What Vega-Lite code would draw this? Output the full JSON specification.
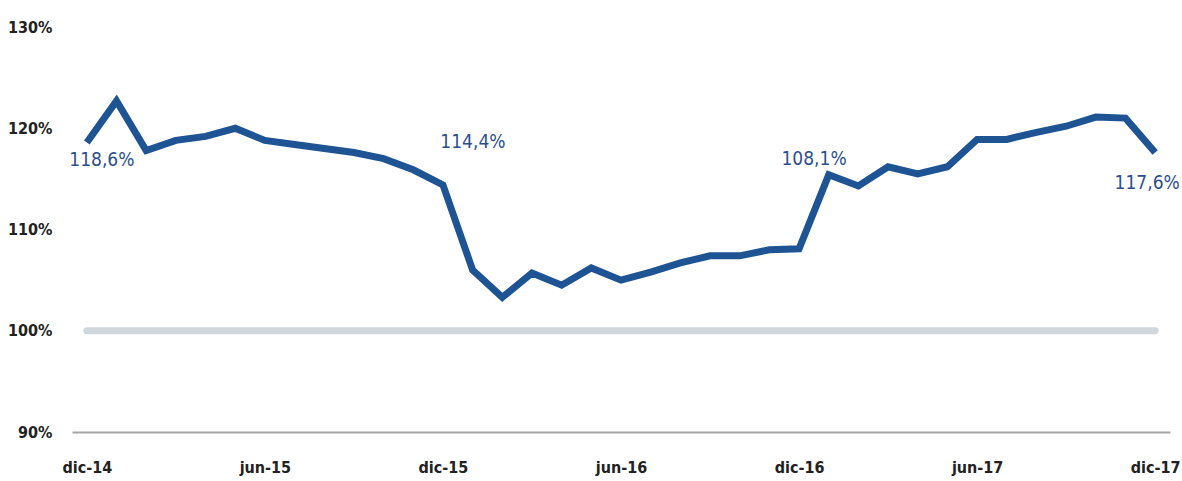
{
  "$schema": "https://vega.github.io/schema/vega-lite/v6.json",
  "autosize": "none",
  "width": 1098,
  "height": 405,
  "padding": {"left": 72, "top": 27, "right": 12, "bottom": 49},
  "background": "white",
  "config": {"view": {"stroke": null}},
  "data": {"values": [
    {"mes": "dic-14", "valor": 118.6, "etiqueta": "118,6%"},
    {"mes": "ene-15", "valor": 122.7},
    {"mes": "feb-15", "valor": 117.8},
    {"mes": "mar-15", "valor": 118.8},
    {"mes": "abr-15", "valor": 119.2},
    {"mes": "may-15", "valor": 120.0},
    {"mes": "jun-15", "valor": 118.8},
    {"mes": "jul-15", "valor": 118.4},
    {"mes": "ago-15", "valor": 118.0},
    {"mes": "sep-15", "valor": 117.6},
    {"mes": "oct-15", "valor": 117.0},
    {"mes": "nov-15", "valor": 115.9},
    {"mes": "dic-15", "valor": 114.4, "etiqueta": "114,4%"},
    {"mes": "ene-16", "valor": 106.0},
    {"mes": "feb-16", "valor": 103.3},
    {"mes": "mar-16", "valor": 105.7},
    {"mes": "abr-16", "valor": 104.5},
    {"mes": "may-16", "valor": 106.2},
    {"mes": "jun-16", "valor": 105.0},
    {"mes": "jul-16", "valor": 105.8},
    {"mes": "ago-16", "valor": 106.7},
    {"mes": "sep-16", "valor": 107.4},
    {"mes": "oct-16", "valor": 107.4},
    {"mes": "nov-16", "valor": 108.0},
    {"mes": "dic-16", "valor": 108.1, "etiqueta": "108,1%"},
    {"mes": "ene-17", "valor": 115.4},
    {"mes": "feb-17", "valor": 114.3},
    {"mes": "mar-17", "valor": 116.2},
    {"mes": "abr-17", "valor": 115.5},
    {"mes": "may-17", "valor": 116.2},
    {"mes": "jun-17", "valor": 118.9},
    {"mes": "jul-17", "valor": 118.9},
    {"mes": "ago-17", "valor": 119.6},
    {"mes": "sep-17", "valor": 120.2},
    {"mes": "oct-17", "valor": 121.1},
    {"mes": "nov-17", "valor": 121.0},
    {"mes": "dic-17", "valor": 117.6, "etiqueta": "117,6%"}
  ]},
  "encoding": {
    "x": {
      "field": "mes", "type": "ordinal", "sort": null,
      "scale": {"type": "point", "padding": 0.5},
      "axis": {
        "title": null,
        "values": ["dic-14", "jun-15", "dic-15", "jun-16", "dic-16", "jun-17", "dic-17"],
        "labelAngle": 0,
        "ticks": false,
        "tickSize": 0,
        "labelPadding": 27,
        "labelFont": "DejaVu Sans Condensed, sans-serif",
        "labelFontSize": 16,
        "labelFontWeight": "bold",
        "labelColor": "#222222",
        "domainColor": "#a6a6a6",
        "domainWidth": 2,
        "grid": false
      }
    },
    "y": {
      "field": "valor", "type": "quantitative",
      "scale": {"domain": [90, 130], "nice": false, "zero": false},
      "axis": {
        "title": null,
        "values": [90, 100, 110, 120, 130],
        "labelExpr": "datum.value + '%'",
        "domain": false,
        "ticks": false,
        "tickSize": 0,
        "grid": false,
        "labelPadding": 20,
        "labelFont": "DejaVu Sans Condensed, sans-serif",
        "labelFontSize": 16,
        "labelFontWeight": "bold",
        "labelColor": "#222222"
      }
    }
  },
  "layer": [
    {
      "mark": {"type": "line", "color": "#cfd7db", "strokeWidth": 7, "strokeCap": "round"},
      "encoding": {"y": {"datum": 100}}
    },
    {
      "mark": {"type": "line", "color": "#1f5494", "strokeWidth": 7, "strokeJoin": "miter", "strokeCap": "butt"}
    },
    {
      "transform": [{"filter": "datum.mes == 'dic-14'"}],
      "mark": {"type": "text", "color": "#2e4f8f", "font": "DejaVu Sans Condensed, sans-serif", "fontSize": 19, "align": "center", "baseline": "middle", "dx": 15, "dy": 18},
      "encoding": {"text": {"field": "etiqueta"}}
    },
    {
      "transform": [{"filter": "datum.mes == 'dic-15'"}],
      "mark": {"type": "text", "color": "#2e4f8f", "font": "DejaVu Sans Condensed, sans-serif", "fontSize": 19, "align": "center", "baseline": "middle", "dx": 30, "dy": -43},
      "encoding": {"text": {"field": "etiqueta"}}
    },
    {
      "transform": [{"filter": "datum.mes == 'dic-16'"}],
      "mark": {"type": "text", "color": "#2e4f8f", "font": "DejaVu Sans Condensed, sans-serif", "fontSize": 19, "align": "center", "baseline": "middle", "dx": 15, "dy": -90},
      "encoding": {"text": {"field": "etiqueta"}}
    },
    {
      "transform": [{"filter": "datum.mes == 'dic-17'"}],
      "mark": {"type": "text", "color": "#2e4f8f", "font": "DejaVu Sans Condensed, sans-serif", "fontSize": 19, "align": "center", "baseline": "middle", "dx": -8, "dy": 30},
      "encoding": {"text": {"field": "etiqueta"}}
    }
  ]
}
